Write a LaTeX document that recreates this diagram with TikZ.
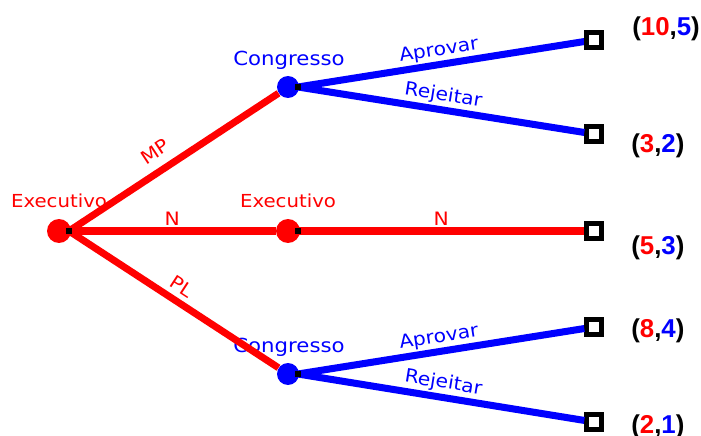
\documentclass[tikz,border=0pt]{standalone}
\usepackage{fontspec}
\setmainfont{DejaVu Sans}[FakeStretch=1.1]
\newfontfamily\payfont{Liberation Sans}
\usetikzlibrary{positioning,calc}

\newcommand{\payoff}[2]{\textbf{(\textcolor{red}{#1},\textcolor{blue}{#2})}}

\begin{document}
\begin{tikzpicture}[x=0.02cm,y=-0.02cm,
    dotR/.style={circle,fill=red,inner sep=0pt,minimum size=0.48cm},
    dotB/.style={circle,fill=blue,inner sep=0pt,minimum size=0.44cm},
    leaf/.style={draw=black,line width=2.8pt,fill=white,inner sep=0pt,minimum size=0.29cm},
    redline/.style={red,line width=4pt},
    blueline/.style={blue,line width=4pt},
    playerR/.style={text=red,font=\fontsize{10.2}{12}\selectfont},
    playerB/.style={text=blue,font=\fontsize{11}{13}\selectfont},
    move/.style={font=\fontsize{10.5}{12}\selectfont,sloped,above,inner sep=1pt},
    pay/.style={anchor=base west,inner sep=0pt,font=\payfont\fontsize{14.7}{16}\selectfont}]
    \useasboundingbox (0,0) rectangle (701,436);
    % decision nodes
    \node[dotR] (ex1) at (59,231) {};
    \node[dotB] (cg1) at (288,87) {};
    \node[dotR] (ex2) at (288,231) {};
    \node[dotB] (cg2) at (288,374) {};
    \node[playerR] at (59,201) {Executivo};
    \node[playerB] at (289,60) {Congresso};
    \node[playerR] at (288,201) {Executivo};
    \node[playerB] at (289,347) {Congresso};
    % small black marks
    \foreach \n in {ex1,cg1,ex2,cg2} {
        \coordinate (\n s) at ($(\n)+(10,0)$);
    }
    % terminal nodes
    \node[leaf] (t1) at (594,40) {};
    \node[leaf] (t2) at (594,134) {};
    \node[leaf] (t3) at (594,231) {};
    \node[leaf] (t4) at (594,327) {};
    \node[leaf] (t5) at (594,422) {};
    % branches
    \draw[redline] (ex1s) -- node[move,text=red,pos=0.46,above=4pt] {MP} (cg1);
    \draw[redline] (ex1s) -- node[move,text=red] {N} (ex2);
    \draw[redline] (ex1s) -- node[move,text=red,above=2pt] {PL} (cg2);
    \draw[redline] (ex2s) -- node[move,text=red] {N} (t3);
    \draw[blueline] (cg1s) -- node[move,text=blue] {Aprovar} (t1);
    \draw[blueline] (cg1s) -- node[move,text=blue] {Rejeitar} (t2);
    \draw[blueline] (cg2s) -- node[move,text=blue] {Aprovar} (t4);
    \draw[blueline] (cg2s) -- node[move,text=blue] {Rejeitar} (t5);
    \foreach \n in {ex1,cg1,ex2,cg2} {\fill[black] ($(\n s)+(-3,-3)$) rectangle ($(\n s)+(3,3)$);}
    \foreach \t in {t1,...,t5} {\node[leaf] at (\t) {};}
    % payoffs
    \node[pay] at (632,35) {\payoff{10}{5}};
    \node[pay] at (631,153) {\payoff{3}{2}};
    \node[pay] at (631,255) {\payoff{5}{3}};
    \node[pay] at (631,337) {\payoff{8}{4}};
    \node[pay] at (631,433) {\payoff{2}{1}};
\end{tikzpicture}
\end{document}
